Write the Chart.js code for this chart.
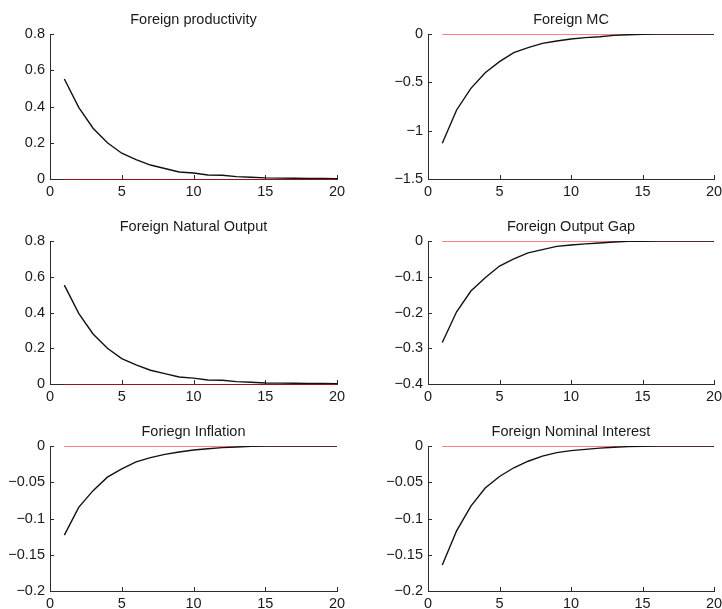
<!DOCTYPE html>
<html>
<head>
<meta charset="utf-8">
<script src="https://cdn.jsdelivr.net/npm/chart.js@4/dist/chart.umd.min.js"></script>
<style>
  html, body { margin: 0; padding: 0; background: #fff; overflow: hidden; width: 722px; height: 609px; }
  canvas { position: absolute; }
</style>
</head>
<body>
<canvas id="c0" width="360" height="200" style="left:0px;top:0px"></canvas>
<canvas id="c1" width="370" height="200" style="left:362px;top:0px"></canvas>
<canvas id="c2" width="360" height="198" style="left:0px;top:207px"></canvas>
<canvas id="c3" width="370" height="198" style="left:362px;top:207px"></canvas>
<canvas id="c4" width="360" height="200" style="left:0px;top:412px"></canvas>
<canvas id="c5" width="370" height="200" style="left:362px;top:412px"></canvas>
<script>
// Impulse responses over 20 periods
const periods = [1, 2, 3, 4, 5, 6, 7, 8, 9, 10, 11, 12, 13, 14, 15, 16, 17, 18, 19, 20];

const foreignProductivity = [0.552, 0.395, 0.28, 0.20, 0.142, 0.107, 0.077, 0.058, 0.039, 0.033,
                             0.022, 0.021, 0.013, 0.010, 0.006, 0.005, 0.004, 0.003, 0.003, 0.002];
const foreignMC = [-1.131, -0.786, -0.562, -0.40, -0.286, -0.193, -0.141, -0.097, -0.072, -0.052,
                   -0.038, -0.028, -0.014, -0.007, -0.002, -0.001, 0, 0, 0, 0];
const foreignNaturalOutput = [0.553, 0.395, 0.28, 0.20, 0.142, 0.107, 0.077, 0.058, 0.039, 0.033,
                              0.022, 0.021, 0.013, 0.010, 0.006, 0.005, 0.004, 0.003, 0.003, 0.002];
const foreignOutputGap = [-0.284, -0.198, -0.140, -0.103, -0.070, -0.050, -0.033, -0.024, -0.015, -0.011,
                          -0.008, -0.0056, -0.003, -0.001, -0.0005, 0, 0, 0, 0, 0];
const foreignInflation = [-0.123, -0.0846, -0.0616, -0.043, -0.0317, -0.022, -0.016, -0.0115, -0.0083, -0.0055,
                          -0.0037, -0.0023, -0.0014, -0.0005, -0.0002, 0, 0, 0, 0, 0];
const foreignNominalInterest = [-0.164, -0.117, -0.083, -0.058, -0.042, -0.030, -0.021, -0.014, -0.0092, -0.0064,
                                -0.0046, -0.003, -0.0018, -0.0009, -0.0004, 0, 0, 0, 0, 0];
const steadyState = [0, 0, 0, 0, 0, 0, 0, 0, 0, 0, 0, 0, 0, 0, 0, 0, 0, 0, 0, 0];

const titles = ['Foreign productivity', 'Foreign MC', 'Foreign Natural Output',
                'Foreign Output Gap', 'Foriegn Inflation', 'Foreign Nominal Interest'];
const series = [foreignProductivity, foreignMC, foreignNaturalOutput,
                foreignOutputGap, foreignInflation, foreignNominalInterest];
const yMin = [0, -1.5, 0, -0.4, -0.2, -0.2];
const yMax = [0.8, 0, 0.8, 0, 0, 0];
const yStep = [0.2, 0.5, 0.2, 0.1, 0.05, 0.05];
const xTicks = [0, 5, 10, 15, 20];

const FONT = '"Liberation Sans", Arial, Helvetica, sans-serif';
const AXIS = '#2b2b2b';

function fmt(v) {
  const a = Math.round(Math.abs(v) * 1000) / 1000;
  return (v < -1e-9 ? '\u2212' : '') + String(a);
}

// short tick marks pointing into the plot area
const inwardTicks = {
  id: 'inwardTicks',
  beforeDatasetsDraw(chart) {
    const { ctx, chartArea: a, scales: { x, y } } = chart;
    ctx.save();
    ctx.strokeStyle = AXIS;
    ctx.lineWidth = 1;
    ctx.beginPath();
    x.ticks.forEach(t => {
      const px = Math.round(x.getPixelForValue(t.value)) + 0.5;
      ctx.moveTo(px, a.bottom);
      ctx.lineTo(px, a.bottom - 4);
    });
    y.ticks.forEach(t => {
      const py = Math.round(y.getPixelForValue(t.value)) + 0.5;
      ctx.moveTo(a.left, py);
      ctx.lineTo(a.left + 4, py);
    });
    ctx.stroke();
    ctx.restore();
  }
};

// keep the thin zero line on a whole pixel row so it stays crisp
const crispZeroLine = {
  id: 'crispZeroLine',
  beforeDatasetDraw(chart, args) {
    if (args.index !== 1) return;
    chart.ctx.save();
    chart.ctx.translate(0, 0.5);
  },
  afterDatasetDraw(chart, args) {
    if (args.index !== 1) return;
    chart.ctx.restore();
  }
};

series.forEach((vals, i) => {
  const right = i % 2 === 1;
  const yAxisWidth = right ? 66 : 50;
  const padRight = right ? 18 : 23;
  new Chart(document.getElementById('c' + i), {
    type: 'line',
    data: {
      datasets: [
        {
          data: periods.map((p, k) => ({ x: p, y: vals[k] })),
          borderColor: '#111111',
          borderWidth: 1.4,
          pointRadius: 0,
          tension: 0,
          fill: false
        },
        {
          data: periods.map((p, k) => ({ x: p, y: steadyState[k] })),
          borderColor: '#ff0000',
          borderWidth: 1,
          pointRadius: 0,
          tension: 0,
          fill: false
        }
      ]
    },
    options: {
      responsive: false,
      animation: false,
      layout: { padding: { top: 0, right: padRight, bottom: 0, left: 0 } },
      plugins: {
        legend: { display: false },
        tooltip: { enabled: false },
        title: {
          display: true,
          fullSize: false,
          text: titles[i],
          color: '#1a1a1a',
          font: { family: FONT, size: 14.5, weight: 'normal', lineHeight: 1.2 },
          padding: { top: 11, bottom: 5.6 }
        }
      },
      scales: {
        x: {
          type: 'linear',
          min: 0, max: 20,
          afterBuildTicks(scale) { scale.ticks = xTicks.map(v => ({ value: v })); },
          afterFit(scale) { scale.height = 21; },
          grid: { display: false, drawTicks: false },
          border: { display: true, color: AXIS, width: 1 },
          ticks: {
            color: '#1a1a1a',
            padding: 4,
            maxRotation: 0,
            font: { family: FONT, size: 14.5 },
            callback: v => fmt(v)
          }
        },
        y: {
          type: 'linear',
          min: yMin[i], max: yMax[i],
          afterFit(scale) { scale.width = yAxisWidth; },
          grid: { display: false, drawTicks: false },
          border: { display: true, color: AXIS, width: 1 },
          ticks: {
            stepSize: yStep[i],
            color: '#1a1a1a',
            padding: 5,
            font: { family: FONT, size: 14.5 },
            callback: v => fmt(v)
          }
        }
      }
    },
    plugins: [inwardTicks, crispZeroLine]
  });
});
</script>
</body>
</html>
